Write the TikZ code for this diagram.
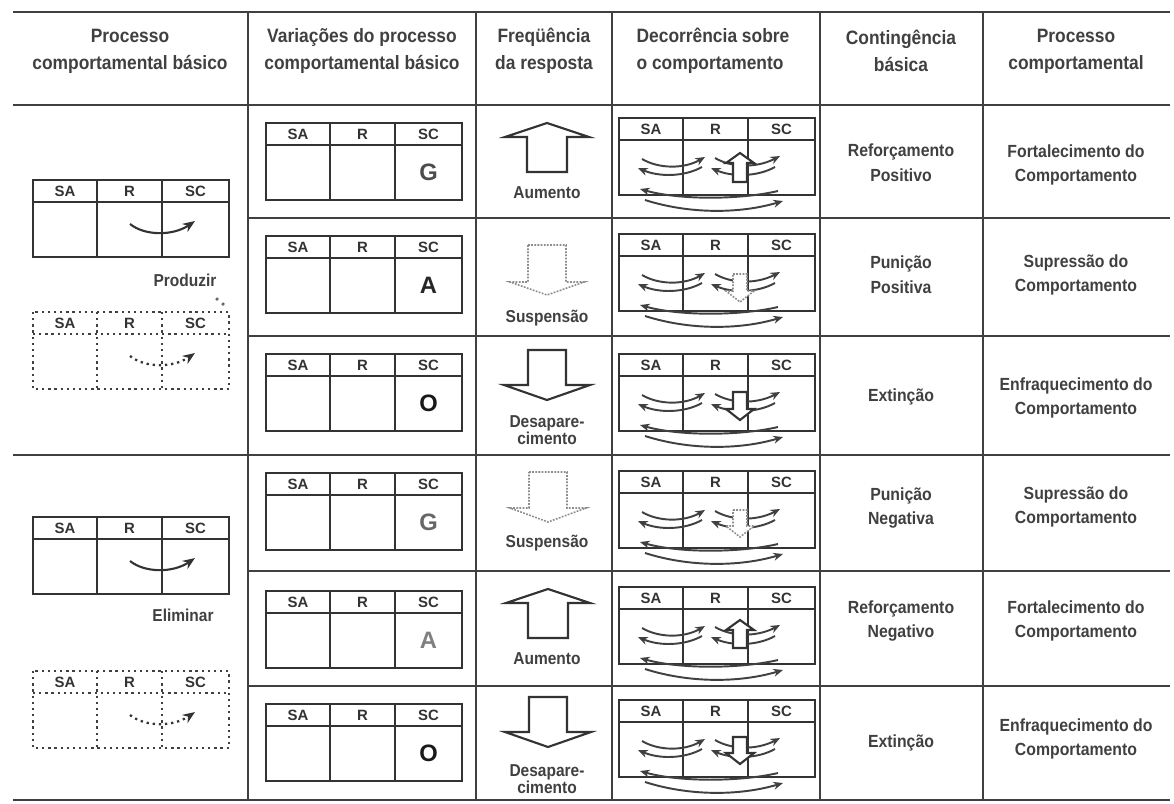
\documentclass[tikz,border=0pt]{standalone}
\usepackage{fontspec}
\setmainfont{Liberation Sans}[FakeStretch=0.9]
\newfontfamily\widefont{Liberation Sans}
\usetikzlibrary{arrows.meta}

\tikzset{
  rule/.style={line width=1pt, draw=black!75},
  boxline/.style={line width=1.1pt, draw=black!80},
  dots/.style={line width=1.3pt, draw=black!75, dash pattern=on 1.3pt off 2.2pt},
  cell/.style={font=\fontsize{8.5}{9}\widefont\bfseries, text=black!80, inner sep=0pt},
  head/.style={font=\fontsize{11}{15.3}\selectfont\bfseries, text=black!75, align=center},
  txt/.style={font=\fontsize{10}{14}\selectfont\bfseries, text=black!75, align=center},
  small/.style={font=\fontsize{9.8}{10}\selectfont\bfseries, text=black!75, align=center},
  ltr/.style={font=\fontsize{13.5}{13.5}\widefont\bfseries},
  flow/.style={line width=1.1pt, draw=black!75, -{Stealth[length=5.5pt,width=4.5pt]}},
  turn/.style={line width=1.2pt, draw=black!80, -{Stealth[length=7pt,width=5.5pt]}},
  turndot/.style={turn, line width=1.3pt, dash pattern=on 1.3pt off 2.2pt},
  blk/.style={line width=1.2pt, draw=black!80, fill=white},
  blkdot/.style={line width=0.9pt, draw=black!45, dash pattern=on 1pt off 0.8pt, fill=white}
}

\newcommand{\srbox}[4][boxline]{%
  \begin{scope}[shift={(#3,#4)}]
    \draw[#1] (0,0) rectangle (196,77);
    \draw[#1] (0,22) -- (196,22);
    \draw[#1] (64,0) -- (64,77) (129,0) -- (129,77);
    \node[cell] (#2-sa) at (32,11) {SA};
    \node[cell] (#2-r) at (96.5,11) {R};
    \node[cell] (#2-sc) at (162.5,11) {SC};
  \end{scope}}

\newcommand{\decbox}[2]{%
  \srbox{#1}{619}{#2}
  \begin{scope}[shift={(619,#2)}]
    \draw[flow] (23,41) .. controls (40,51) and (65,51) .. (86,39);
    \draw[flow] (83,49) .. controls (65,59) and (40,59) .. (19,50);
    \draw[flow] (96,40) .. controls (113,50) and (138,50) .. (161,38);
    \draw[flow] (156,49) .. controls (138,59) and (113,59) .. (92,50);
    \draw[flow] (159,73) .. controls (120,82) and (60,82) .. (21,71);
    \draw[flow] (26,82) .. controls (70,96) and (120,96) .. (164,83);
  \end{scope}}

\newcommand{\turnarrow}[3][turn]{\draw[#1] (#2+97,#3+44) .. controls (#2+112,#3+56) and (#2+140,#3+56) .. (#2+162,#3+41);}

\newcommand{\blkup}[7][blk]{\draw[#1] (#2,#3) -- (#2+#4,#3+#6) -- (#2+#5,#3+#6) -- (#2+#5,#3+#7) -- (#2-#5,#3+#7) -- (#2-#5,#3+#6) -- (#2-#4,#3+#6) -- cycle;}
\newcommand{\blkdown}[7][blk]{\draw[#1] (#2-#5,#3) -- (#2+#5,#3) -- (#2+#5,#3+#7-#6) -- (#2+#4,#3+#7-#6) -- (#2,#3+#7) -- (#2-#4,#3+#7-#6) -- (#2-#5,#3+#7-#6) -- cycle;}

\begin{document}
\begin{tikzpicture}[x=0.2mm,y=-0.2mm]
\useasboundingbox (0,0) rectangle (1174,803);

\draw[rule] (13,12) -- (1170,12);
\draw[rule] (13,105) -- (1170,105);
\draw[rule] (13,455) -- (1170,455);
\draw[rule] (13,800) -- (1170,800);
\foreach \y in {218,336,571,686} \draw[rule] (248,\y) -- (1170,\y);
\foreach \x in {248,476,612,820,983} \draw[rule] (\x,12) -- (\x,800);

\node[head] (h1) at (130,51) {Processo\\comportamental básico};
\node[head] (h2) at (362,51) {Variações do processo\\comportamental básico};
\node[head] (h3) at (544,51) {Freqüência\\da resposta};
\node[head, align=left] (h4) at (713,51) {Decorrência sobre\\o comportamento};
\node[head] (h5) at (901,51) {Contingência\\básica};
\node[head] (h6) at (1076,51) {Processo\\comportamental};

\srbox{b1}{33}{180}
\turnarrow{33}{180}
\node[small] (prod) at (185,280) {Produzir};
\fill[black!60] (217,299) circle (1pt) (223,304) circle (1pt);
\srbox[dots]{b2}{33}{312}
\turnarrow[turndot]{33}{312}
\srbox{b3}{33}{517}
\turnarrow{33}{517}
\node[small] (elim) at (183,615) {Eliminar};
\srbox[dots]{b4}{33}{671}
\turnarrow[turndot]{33}{671}

\srbox{v1}{266}{123}
\srbox{v2}{266}{236}
\srbox{v3}{266}{354}
\srbox{v4}{266}{473}
\srbox{v5}{266}{591}
\srbox{v6}{266}{704}
\node[ltr, text=black!70] (v1-l) at (428.5,172.5) {G};
\node[ltr, text=black!85] (v2-l) at (428.5,285.5) {A};
\node[ltr, text=black!90] (v3-l) at (428.5,403.5) {O};
\node[ltr, text=black!60] (v4-l) at (428.5,522.5) {G};
\node[ltr, text=black!50] (v5-l) at (428.5,640.5) {A};
\node[ltr, text=black!90] (v6-l) at (428.5,753.5) {O};

\blkup{547}{123}{42}{20}{14}{49}
\node[small] (f1) at (547,193) {Aumento};
\blkdown[blkdot]{547}{245}{37}{19}{13}{50}
\node[small] (f2) at (547,318) {Suspensão};
\blkdown{547}{350}{43}{19}{15}{50}
\node[small] (f3) at (547,430) {Desapare-\\cimento};
\blkdown[blkdot]{548}{472}{38}{19}{14}{50}
\node[small] (f4) at (547,543) {Suspensão};
\blkup{548}{589}{42}{20}{14}{49}
\node[small] (f5) at (547,659) {Aumento};
\blkdown{548}{697}{43}{19}{15}{50}
\node[small] (f6) at (547,779) {Desapare-\\cimento};

\decbox{d1}{118}
\blkup{740}{153}{14}{7}{10}{29}
\decbox{d2}{234}
\blkdown[blkdot]{740}{274}{14}{7}{11}{28}
\decbox{d3}{354}
\blkdown{740}{392}{14}{7}{11}{28}
\decbox{d4}{471}
\blkdown[blkdot]{740}{510}{14}{7}{11}{27}
\decbox{d5}{587}
\blkup{740}{620}{14}{7}{10}{28}
\decbox{d6}{700}
\blkdown{740}{737}{14}{7}{11}{27}

\node[txt] (c1) at (901,163) {Reforçamento\\Positivo};
\node[txt] (c2) at (901,275) {Punição\\Positiva};
\node[txt] (c3) at (901,397) {Extinção};
\node[txt] (c4) at (901,508) {Punição\\Negativa};
\node[txt] (c5) at (901,621) {Reforçamento\\Negativo};
\node[txt] (c6) at (901,743) {Extinção};

\node[txt] (p1) at (1076,165) {Fortalecimento do\\Comportamento};
\node[txt] (p2) at (1076,275) {Supressão do\\Comportamento};
\node[txt] (p3) at (1076,398) {Enfraquecimento do\\Comportamento};
\node[txt] (p4) at (1076,507) {Supressão do\\Comportamento};
\node[txt] (p5) at (1076,621) {Fortalecimento do\\Comportamento};
\node[txt] (p6) at (1076,739) {Enfraquecimento do\\Comportamento};
\end{tikzpicture}
\end{document}
